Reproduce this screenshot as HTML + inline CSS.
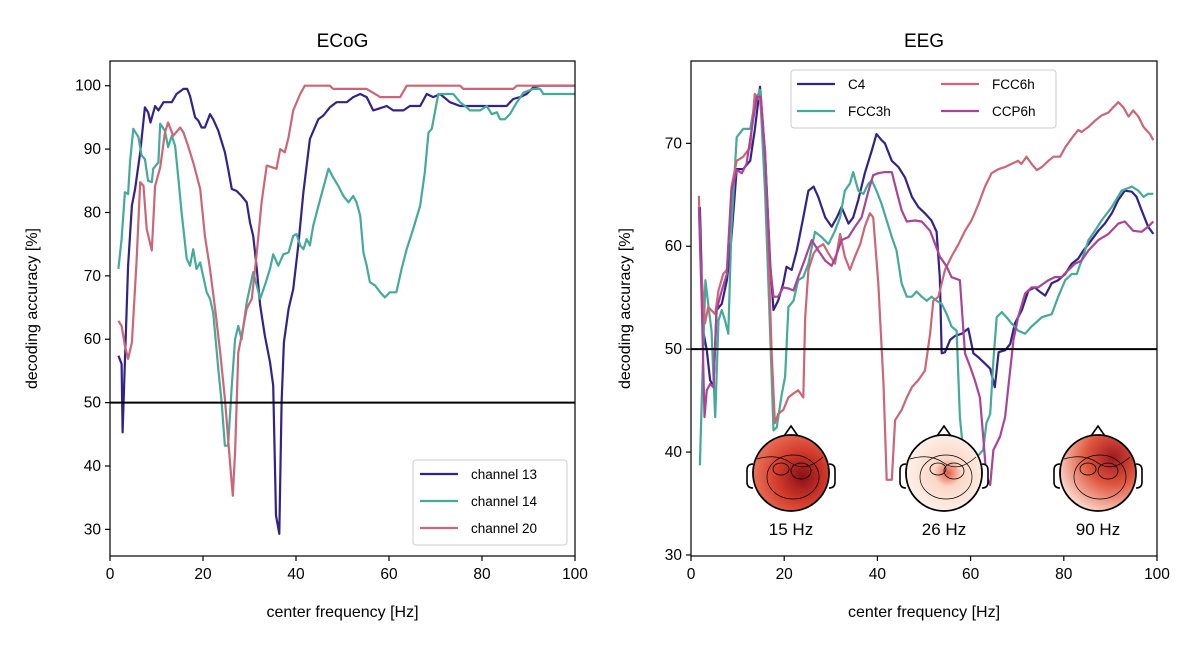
<!DOCTYPE html>
<html><head><meta charset="utf-8">
<style>
body{margin:0;background:#fff;}
svg{display:block;font-family:"Liberation Sans",Arial,sans-serif;}
</style></head>
<body>
<svg id="fig" width="1200" height="649" viewBox="0 0 1200 649" xmlns="http://www.w3.org/2000/svg">
<defs>
<radialGradient id="g15" cx="0.65" cy="0.55" r="0.75"><stop offset="0" stop-color="#8b0f18"/><stop offset="0.45" stop-color="#d33b2b"/><stop offset="1" stop-color="#f08368"/></radialGradient>
<radialGradient id="g26" cx="0.55" cy="0.5" r="0.6"><stop offset="0" stop-color="#e35a45"/><stop offset="0.3" stop-color="#fbd7c6"/><stop offset="1" stop-color="#fff5ef"/></radialGradient>
<radialGradient id="g90" cx="0.7" cy="0.3" r="0.8"><stop offset="0" stop-color="#a01a1f"/><stop offset="0.45" stop-color="#e0573f"/><stop offset="1" stop-color="#fde2d6"/></radialGradient>
</defs>
<g id="root"></g>
</svg>
<script>
// ---------- ECoG data ----------
const ch13F=[1.8,2.5,2.7,3.2,3.9,4.7,5.4,6.5,7.5,8.2,8.7,9.7,10.4,11.5,13.3,14.3,15.8,16.6,17.2,18.3,19.0,19.7,20.4,21.5,22.2,23.3,24.7,25.4,26.2,27.2,28.3,29.4,30.1,30.8,31.5,32.3,33.3,34.4,35.1,35.7,36.4,36.9,37.4,38.4,39.4,40.5,41.6,43.0,44.8,45.9,47.3,48.7,50.9,52.3,53.8,55.2,56.6,59.5,60.9,63.1,64.5,66.7,68.1,69.5,71.0,73.1,75.3,85.3,86.7,88.2,89.6,91.0,92.5,100];
const ch13V=[57.4,56.1,45.3,56.4,71.6,81.1,83.7,89.5,96.6,95.8,94.2,96.8,96.1,97.4,97.4,98.7,99.5,99.5,98.4,95.0,94.5,93.4,93.4,95.5,94.7,92.9,89.5,86.9,83.7,83.4,82.6,81.6,78.4,76.3,71.6,65.3,60.6,56.4,52.7,32.2,29.3,50.1,59.5,64.8,67.9,74.8,83.2,91.6,94.7,95.3,96.6,97.4,97.4,98.2,98.7,98.2,96.1,96.8,96.1,96.1,96.8,96.8,98.7,98.2,98.7,97.4,96.8,96.8,97.9,98.2,98.7,99.7,100,100];
const ch14F=[1.8,2.5,3.2,3.9,4.3,5.0,6.1,6.8,7.5,8.2,9.0,9.3,10.4,10.8,11.8,12.5,13.3,14.0,14.7,15.4,16.5,17.2,17.9,18.6,19.4,20.8,21.5,22.2,23.3,24.0,24.7,25.4,26.2,26.9,27.6,28.3,29.4,30.8,32.3,33.3,34.4,35.1,36.2,37.3,38.4,39.4,40.1,40.9,41.6,42.3,43.0,43.7,45.2,47.0,48.0,49.1,50.2,51.3,52.3,53.0,53.8,54.5,55.2,55.9,57.0,58.1,59.1,60.2,61.6,62.7,63.8,65.2,66.7,67.7,68.5,69.2,70.6,73.8,75.3,76.7,77.4,79.6,81.0,82.1,83.2,83.9,84.9,86.0,87.5,88.9,91.0,92.5,93.2,100];
const ch14V=[71.1,75.8,83.2,82.9,87.9,93.2,91.9,89.0,88.4,85.0,84.8,86.9,87.9,94.0,92.9,90.3,92.1,90.5,85.3,80.0,72.7,71.6,74.2,71.1,72.1,67.4,66.4,64.2,55.3,50.1,43.2,43.2,52.7,60.0,62.1,60.0,65.8,70.6,66.4,68.5,71.1,73.4,71.6,73.4,73.7,76.3,76.6,74.8,74.2,75.8,74.8,77.9,82.1,86.9,85.5,84.2,82.6,81.6,82.6,81.6,79.5,73.7,71.6,69.0,68.5,67.4,66.6,67.4,67.4,71.1,74.2,77.4,81.1,86.3,92.6,93.2,98.7,98.7,97.4,96.6,96.1,96.1,96.8,95.5,95.8,94.7,94.7,95.5,97.4,98.9,99.5,99.5,98.7,98.7];
const ch20F=[1.8,2.5,3.2,3.9,4.7,5.7,6.5,7.2,7.9,9.0,9.7,10.8,11.8,12.5,13.6,15.1,15.8,16.8,17.9,19.4,20.4,21.5,22.6,23.7,24.7,25.8,26.4,26.9,27.6,28.3,29.4,30.5,31.5,32.6,33.7,35.8,36.6,37.6,38.4,39.4,40.9,41.9,47.3,48.0,55.2,58.1,62.4,63.8,75.3,76.0,86.7,87.5,100];
const ch20V=[62.9,62.1,59.0,56.9,59.5,72.1,84.8,84.2,77.4,74.0,84.2,87.1,92.6,94.2,92.1,93.4,92.6,90.5,87.9,83.7,76.3,71.1,64.8,57.9,50.6,40.6,35.3,42.2,57.9,60.6,64.8,66.4,73.2,81.6,87.4,86.9,90.0,89.5,91.9,96.1,98.7,100,100,99.5,99.5,98.2,98.2,100,100,99.5,99.5,100,100];
// ---------- EEG data ----------
const c4F=[1.9,2.6,3.4,4.1,4.8,5.5,6.6,7.7,8.7,9.8,11.2,12.7,13.7,14.8,15.9,17.0,17.7,18.7,19.8,20.5,21.6,22.7,24.1,25.2,26.3,27.3,28.8,30.2,31.3,32.3,33.8,34.8,35.9,37.3,38.8,39.8,40.9,41.6,43.1,44.5,45.9,47.4,48.8,50.2,51.6,52.7,53.4,53.8,54.5,55.6,56.7,58.1,59.5,60.6,61.7,63.1,64.2,65.2,66.0,67.4,68.5,69.5,71.0,72.4,73.8,74.5,76.0,77.4,78.8,80.3,81.7,83.1,84.2,85.3,87.4,88.8,90.3,91.7,93.1,94.6,95.6,96.7,98.1,99.2];
const c4V=[63.8,51.8,49.9,47.0,46.3,53.8,54.4,56.7,60.9,67.5,67.5,68.3,71.3,75.5,69.0,58.3,53.8,54.7,56.4,58.0,57.7,59.6,62.8,65.4,65.8,64.8,62.8,61.9,62.8,63.8,62.2,62.8,64.5,67.1,69.3,70.9,70.3,70.0,68.3,67.7,66.7,64.8,63.8,63.2,62.5,61.4,57.0,49.6,49.7,50.9,51.3,51.5,52.0,49.6,49.2,48.6,48.1,46.3,49.7,49.9,50.5,52.5,53.8,55.7,56.0,55.7,55.2,56.4,56.7,57.3,58.3,58.8,59.6,60.2,61.5,62.2,63.2,64.5,65.4,65.3,64.8,63.5,61.9,61.2];
const fcc3hF=[1.9,2.4,3.1,3.7,4.4,5.2,5.9,6.6,7.3,8.0,8.7,9.8,11.2,12.7,13.7,14.8,15.9,16.6,17.7,18.4,19.5,20.2,20.9,22.0,23.0,24.1,25.2,26.6,28.0,29.5,30.9,32.0,33.0,34.1,34.8,35.9,37.0,38.1,38.8,39.8,40.9,42.0,43.1,44.1,45.2,46.3,47.4,48.4,49.5,50.6,51.6,52.7,53.8,54.9,55.9,57.0,57.7,58.4,60.2,61.7,62.7,63.4,64.2,64.9,65.6,66.7,67.7,68.8,70.2,71.7,73.1,75.3,77.4,78.8,80.3,81.7,82.8,83.8,85.3,86.7,88.1,90.3,92.4,94.6,96.0,97.1,98.1,99.2];
const fcc3hV=[38.7,46.6,56.7,54.4,51.8,43.4,52.8,53.8,52.8,51.5,61.9,70.6,71.4,71.4,73.9,75.2,65.1,56.4,42.1,42.4,45.7,47.3,54.1,54.7,56.7,57.0,58.3,61.4,60.9,60.2,61.5,62.8,65.4,66.1,67.2,65.4,65.1,66.1,66.4,65.4,64.1,62.5,60.9,59.6,56.4,55.1,55.1,55.6,55.1,54.7,55.1,54.7,54.4,53.4,52.2,51.8,43.4,40.2,38.9,39.7,40.2,42.8,43.7,48.9,53.1,53.6,53.1,52.5,51.8,51.5,52.2,53.1,53.4,55.1,56.7,57.3,57.3,58.6,60.6,61.5,62.5,63.8,65.4,65.8,65.4,64.8,65.1,65.1];
const fcc6hF=[1.7,2.1,3.0,3.7,5.2,5.9,6.9,7.7,8.7,9.8,11.2,12.7,13.7,14.8,15.9,16.6,17.3,18.0,18.7,19.8,20.9,22.0,23.0,24.1,24.5,25.2,26.3,27.3,28.4,29.5,30.9,32.0,33.0,34.1,35.2,36.3,37.3,38.4,39.1,40.2,41.3,42.0,43.1,43.8,45.2,46.3,47.4,48.8,50.2,51.3,52.0,53.1,54.5,55.9,57.4,58.8,60.2,61.7,63.1,64.5,66.0,67.4,68.8,70.2,70.9,72.0,73.1,74.2,75.3,76.7,77.8,79.2,80.3,81.7,83.1,83.8,85.3,86.7,88.1,89.6,90.6,91.7,92.8,93.9,94.9,96.0,97.1,98.5,99.2];
const fcc6hV=[64.9,58.3,52.5,54.1,53.4,55.7,57.3,57.7,65.8,68.3,68.7,69.6,74.8,74.2,69.3,59.6,49.9,42.8,43.7,44.1,45.3,45.7,46.0,45.3,53.1,57.7,59.3,59.9,60.2,59.3,58.3,61.2,59.0,57.7,59.0,60.2,61.9,63.2,62.8,56.4,46.6,37.3,37.3,43.1,44.1,45.3,46.3,47.0,47.9,51.5,54.7,55.1,57.7,59.0,60.2,61.5,62.5,64.1,65.8,67.1,67.5,67.7,68.0,68.3,68.0,68.7,68.0,67.4,67.7,68.3,68.7,68.7,69.6,70.5,71.3,71.1,71.6,72.2,72.7,73.0,73.5,74.0,73.5,72.6,73.2,72.6,71.6,70.9,70.3];
const ccp6hF=[1.7,2.3,2.9,3.4,4.1,4.8,5.5,6.6,7.7,8.7,9.8,10.9,11.9,13.0,14.1,15.0,15.9,17.0,17.7,18.7,19.8,20.9,22.0,23.0,24.1,25.9,27.3,28.8,30.2,31.3,32.3,33.8,35.2,36.6,38.1,39.1,40.2,41.6,43.1,44.1,45.2,46.3,48.1,49.5,51.3,52.4,53.4,54.9,55.9,57.7,58.8,59.9,60.9,62.0,62.7,63.4,64.2,64.9,66.3,67.4,68.1,69.2,70.2,71.7,73.1,74.5,76.7,78.1,79.5,81.0,82.4,83.8,85.3,87.4,89.6,91.7,93.1,94.9,96.7,98.1,99.2];
const ccp6hV=[63.8,54.7,43.4,46.0,46.6,46.3,53.8,55.7,57.3,65.4,67.4,67.1,68.0,71.3,74.5,74.5,68.7,58.0,55.1,55.1,56.0,55.9,55.7,57.0,58.3,60.6,59.6,58.6,58.1,59.3,60.6,60.9,61.9,62.8,65.4,66.9,67.1,67.2,67.2,65.4,63.5,62.4,62.5,62.4,61.5,60.2,59.0,58.0,57.0,56.7,49.6,48.3,47.0,45.3,41.5,37.6,36.8,40.2,41.5,43.4,46.3,50.9,53.1,55.4,56.0,56.0,56.7,57.0,57.0,57.7,58.3,58.6,59.6,60.6,61.2,62.2,62.4,61.5,61.4,61.9,62.4];
const ecogYTicks=[30,40,50,60,70,80,90,100];
const eegYTicks=[30,40,50,60,70];
const xTicks=[0,20,40,60,80,100];
const topoLabels=["15 Hz","26 Hz","90 Hz"];
const topoFreqs=[15,26,90];

const NS="http://www.w3.org/2000/svg";
const root=document.getElementById('root');
function mk(tag,attrs,parent){const e=document.createElementNS(NS,tag);for(const k in attrs)e.setAttribute(k,attrs[k]);(parent||root).appendChild(e);return e;}

const panels=[
 {name:'ecog',L:110,R:575,T:61,B:556,ymin:25.8,ymax:103.9,yt:ecogYTicks,title:'ECoG',yoff:73,
  series:[[ch13F,ch13V,'#332288','channel-13'],[ch14F,ch14V,'#44AA99','channel-14'],[ch20F,ch20V,'#CC6677','channel-20']]},
 {name:'eeg',L:691,R:1157,T:61,B:556,ymin:29.9,ymax:78.0,yt:eegYTicks,title:'EEG',yoff:61,
  series:[[c4F,c4V,'#332288','c4'],[fcc3hF,fcc3hV,'#44AA99','fcc3h'],[fcc6hF,fcc6hV,'#CC6677','fcc6h'],[ccp6hF,ccp6hV,'#AA4499','ccp6h']]}
];
panels.forEach(p=>{
 const xs=f=>p.L+(f/100)*(p.R-p.L);
 const ys=v=>p.B-(v-p.ymin)/(p.ymax-p.ymin)*(p.B-p.T);
 const g=mk('g',{});
 
 
 const t=mk('text',{x:(p.L+p.R)/2,y:47,'text-anchor':'middle','font-size':19,fill:'#000'},g);
 t.textContent=p.title;
 
 
 p.series.forEach(s=>{
  const d=s[0].map((f,i)=>(i?'L':'M')+xs(f).toFixed(1)+','+ys(s[1][i]).toFixed(1)).join('');
  const path=mk('path',{d:d,fill:'none',stroke:s[2],'stroke-width':2.2,'stroke-linejoin':'round'},g);
  
  
 });
 const ref=mk('line',{x1:p.L,x2:p.R,y1:ys(50),y2:ys(50),stroke:'#000','stroke-width':2},g);
 
 
 const fr=mk('rect',{x:p.L,y:p.T,width:p.R-p.L,height:p.B-p.T,fill:'none',stroke:'#000','stroke-width':1.2},g);
 
 
 xTicks.forEach(v=>{
  mk('line',{x1:xs(v),x2:xs(v),y1:p.B,y2:p.B+5,stroke:'#000','stroke-width':1.2},g);
  const tl=mk('text',{x:xs(v),y:p.B+23,'text-anchor':'middle','font-size':15.5},g);
  tl.textContent=v;
  
  
 });
 p.yt.forEach(v=>{
  mk('line',{x1:p.L-5,x2:p.L,y1:ys(v),y2:ys(v),stroke:'#000','stroke-width':1.2},g);
  const tl=mk('text',{x:p.L-9,y:ys(v)+5,'text-anchor':'end','font-size':15.5},g);
  tl.textContent=v;
  
  
 });
 const xl=mk('text',{x:(p.L+p.R)/2,y:617,'text-anchor':'middle','font-size':16},g);
 xl.textContent='center frequency [Hz]';
 
 
 const yx=p.L-p.yoff, yy=(p.T+p.B)/2;
 const yl=mk('text',{x:yx,y:yy,'text-anchor':'middle','font-size':16,transform:'rotate(-90 '+yx+' '+yy+')'},g);
 yl.textContent='decoding accuracy [%]';
 
 
});

function legend(box,entries,name){
 const g=mk('g',{});
 
 
 mk('rect',{x:box[0],y:box[1],width:box[2],height:box[3],rx:3,fill:'#fff','fill-opacity':0.85,stroke:'#ccc'},g);
 entries.forEach(e=>{
  mk('line',{x1:e[0],x2:e[0]+38,y1:e[1],y2:e[1],stroke:e[3],'stroke-width':2.2},g);
  const t=mk('text',{x:e[0]+51,y:e[1]+5,'font-size':13.5},g);
  t.textContent=e[2];
  
  
 });
}
legend([413,460,154,85],[[420,474,'channel 13','#332288'],[420,501,'channel 14','#44AA99'],[420,528,'channel 20','#CC6677']],'ecog-legend');
legend([791,70,265,58],[[797,84,'C4','#332288'],[797,111,'FCC3h','#44AA99'],[941,84,'FCC6h','#CC6677'],[941,111,'CCP6h','#AA4499']],'eeg-legend');

const topoX=[791,944,1098], grads=['g15','g26','g90'];
topoFreqs.forEach((f,i)=>{
 const cx=topoX[i], cy=473, r=38;
 const g=mk('g',{});
 
 
 mk('path',{d:`M${cx-7},${cy-r+1} L${cx},${cy-r-9} L${cx+7},${cy-r+1}`,fill:'#fff',stroke:'#000','stroke-width':1.6},g);
 mk('path',{d:`M${cx-r},${cy-9} q-6,0 -6,6 v12 q0,6 6,6 M${cx+r},${cy-9} q6,0 6,6 v12 q0,6 -6,6`,fill:'#fff',stroke:'#000','stroke-width':1.6},g);
 mk('circle',{cx:cx,cy:cy,r:r,fill:'url(#'+grads[i]+')',stroke:'#000','stroke-width':1.8},g);
 mk('ellipse',{cx:cx+(i==1?-6:-10),cy:cy-4,rx:8,ry:6,fill:'none',stroke:'#000','stroke-width':0.8},g);
 mk('ellipse',{cx:cx+10,cy:cy-2,rx:10,ry:8,fill:'none',stroke:'#000','stroke-width':0.8},g);
 mk('ellipse',{cx:cx+2,cy:cy+4,rx:26,ry:22,fill:'none',stroke:'#000','stroke-width':0.7},g);
 mk('path',{d:`M${cx-r+4},${cy-14} q20,-6 34,4 t32,-6`,fill:'none',stroke:'#000','stroke-width':0.7},g);
 const t=mk('text',{x:cx,y:535,'text-anchor':'middle','font-size':17},g);
 t.textContent=topoLabels[i];
 
 
});
</script>
</body></html>
